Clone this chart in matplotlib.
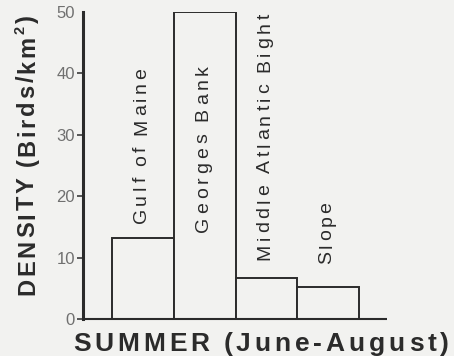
import matplotlib
matplotlib.use('Agg')
import matplotlib.pyplot as plt
from matplotlib.font_manager import FontProperties
from matplotlib.transforms import IdentityTransform

# seabird density by region, summer survey
regions = ['Gulf of Maine', 'Georges Bank', 'Middle Atlantic Bight', 'Slope']
density = [13.2, 50.0, 6.7, 5.2]
yticks = [0, 10, 20, 30, 40, 50]

# vertical extent of each region label, in density units (start, end)
label_span = [(15.6, 40.9), (14.2, 41.4), (9.6, 49.8), (9.0, 19.1)]

FONT = 'Liberation Sans'
BG = '#f2f2f0'
INK = '#2b2b2b'


def spread_text(fig, x, y, text, length, size, rotation=0,
                weight='normal', color=INK):
    """Write text letter by letter so that it covers `length` pixels."""
    r = fig.canvas.get_renderer()
    prop = FontProperties(family=FONT, size=size, weight=weight)
    sup = FontProperties(family=FONT, size=size * 0.62, weight=weight)
    em = size * fig.dpi / 72.
    widths = []
    for ch in text:
        if ch == ' ':
            widths.append(0.22 * em)
        elif ch == '²':
            widths.append(r.get_text_width_height_descent('2', sup, False)[0])
        else:
            widths.append(r.get_text_width_height_descent(ch, prop, False)[0])
    gap = (length - sum(widths)) / (len(text) - 1)
    pos = 0.
    for ch, w in zip(text, widths):
        if ch != ' ':
            fp, s, rise = prop, ch, 0.
            if ch == '²':
                fp, s, rise = sup, '2', 0.42 * em
            if rotation == 90:
                px, py = x - rise, y + pos
            else:
                px, py = x + pos, y + rise
            fig.text(px, py, s, rotation=rotation, rotation_mode='anchor',
                     ha='left', va='baseline', fontproperties=fp,
                     color=color, transform=IdentityTransform())
        pos += w + gap


fig = plt.figure(figsize=(4.54, 3.56), dpi=100, facecolor=BG)
W, H = 454, 356
ax = fig.add_axes([82.5 / W, 1 - 319. / H, (387 - 82.5) / W, (319 - 12.) / H])
ax.set_facecolor(BG)

xs = list(range(len(regions)))
ax.bar(xs, density, width=1.0, color=BG, edgecolor=INK, linewidth=1.4)

ax.set_xlim(-0.98, 3.95)
ax.set_ylim(0, 50)
ax.set_yticks(yticks)
ax.set_yticklabels([str(t) for t in yticks], fontfamily=FONT, fontsize=12,
                   color='#707070')
ax.set_xticks([])
ax.tick_params(axis='y', direction='out', length=4.5, width=1.1,
               color=INK, pad=1)
ax.yaxis.get_major_ticks()[-1].tick1line.set_visible(False)

for side in ['top', 'right']:
    ax.spines[side].set_visible(False)
ax.spines['left'].set_linewidth(2.2)
ax.spines['left'].set_color(INK)
ax.spines['bottom'].set_linewidth(1.5)
ax.spines['bottom'].set_color(INK)
ax.spines['bottom'].set_capstyle('butt')

fig.canvas.draw()

# region names stand upright over (or inside) each bar
for x, name, (y0, y1) in zip(xs, regions, label_span):
    bx, by0 = ax.transData.transform((x, y0))
    _, by1 = ax.transData.transform((x, y1))
    spread_text(fig, bx + 3, by0, name, by1 - by0, 14, rotation=90)

spread_text(fig, 34, H - 295, 'DENSITY (Birds/km²)', 280, 17,
            rotation=90, weight='bold')
spread_text(fig, 73, H - 351, 'SUMMER (June-August)', 376, 19,
            weight='bold')

fig.savefig('out.png', dpi=100, facecolor=BG)
